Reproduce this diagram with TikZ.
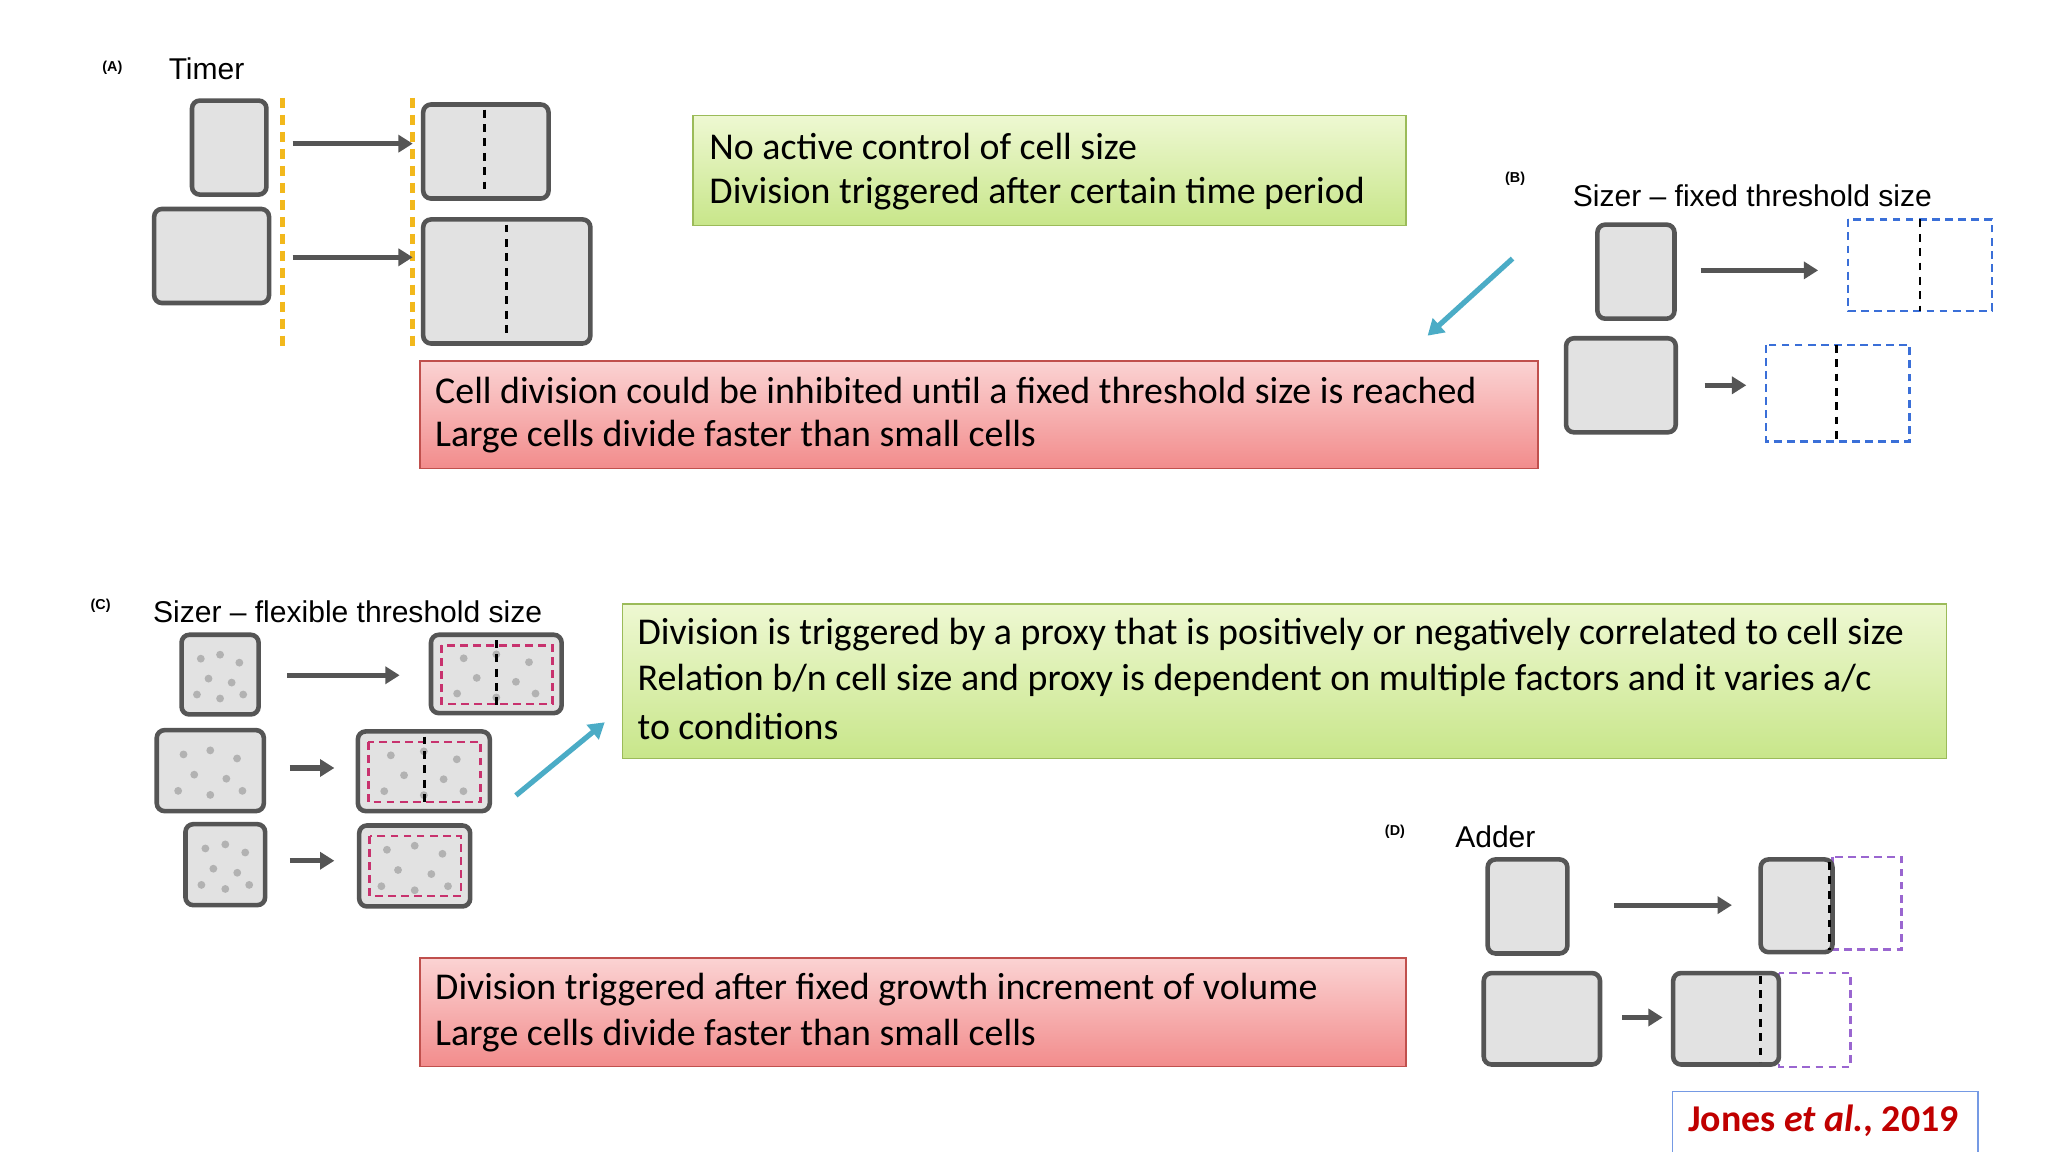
\documentclass[tikz,border=0pt]{standalone}
\usepackage{fontspec}
\setmainfont{Carlito}
\newfontfamily\lbl{Liberation Sans}
\usetikzlibrary{arrows.meta,calc}
\definecolor{cellfill}{HTML}{E2E2E2}
\definecolor{celldraw}{HTML}{555555}
\definecolor{gtop}{HTML}{EEF8D2}
\definecolor{gbot}{HTML}{C8E68A}
\definecolor{gbord}{HTML}{9BBB59}
\definecolor{rtop}{HTML}{FBD3D3}
\definecolor{rbot}{HTML}{F28C8C}
\definecolor{rbord}{HTML}{C0504D}
\definecolor{cyanarr}{HTML}{4BACC6}
\definecolor{ylw}{HTML}{F2B81C}
\definecolor{bluedash}{HTML}{3A6FD8}
\definecolor{pinkdash}{HTML}{C8326E}
\definecolor{purdash}{HTML}{9A66D0}
\definecolor{darkred}{HTML}{C00000}
\tikzset{x=1pt,y=-1pt,
 cell/.style={fill=cellfill,draw=celldraw,line width=3.5pt,rounded corners=6pt},
 arr/.style={draw=celldraw,line width=4pt,-{Triangle[length=11pt,width=13pt]}},
 mid/.style={black,line width=2.2pt,dash pattern=on 6pt off 5pt},
 dbox/.style={line width=2pt,dash pattern=on 6pt off 4pt},
 greenbox/.style={draw=gbord,line width=1pt,top color=gtop,bottom color=gbot},
 redbox/.style={draw=rbord,line width=1pt,top color=rtop,bottom color=rbot},
 boxtext/.style={anchor=west,font=\fontsize{29}{33}\selectfont,inner sep=0pt},
 plabel/.style={font=\lbl\bfseries\fontsize{11}{13}\selectfont,inner sep=0pt},
 title/.style={anchor=west,font=\lbl\fontsize{23}{26}\selectfont,inner sep=0pt},
 blarr/.style={cyanarr,line width=4pt,-{Triangle[length=12pt,width=14pt]}},
 dot/.style={fill=gray!60,draw=none}}
\newcommand{\celldots}[2]{\foreach \dx/\dy in {0.25/0.3,0.5/0.25,0.75/0.35,0.35/0.55,0.65/0.6,0.2/0.75,0.5/0.8,0.8/0.75}{\coordinate (px) at ($(#1)!\dx!(#2)$); \coordinate (py) at ($(#1)!\dy!(#2)$); \fill[dot] (px |- py) circle (3pt);}}
\begin{document}
\begin{tikzpicture}
\useasboundingbox[fill=white] (0,0) rectangle (1568,882);
% (A)
\node[plabel] (la) at (86,52) {(A)};
\node[title] (ta) at (129,53) {Timer};
\draw[ylw,line width=4pt,dash pattern=on 8pt off 5pt] (216,75) coordinate (y1) -- (216,265) coordinate (y2);
\draw[ylw,line width=4pt,dash pattern=on 8pt off 5pt] (316,75) coordinate (y3) -- (316,265) coordinate (y4);
\draw[cell] (147,77) rectangle (204,149); \coordinate (a1) at (224,110); \coordinate (a1e) at (316,110);
\draw[cell] (118,160) rectangle (206,232); \coordinate (a2) at (224,197); \coordinate (a2e) at (316,197);
\draw[arr] (a1) -- (a1e); \draw[arr] (a2) -- (a2e);
\draw[cell] (324,80) rectangle (420,152); \draw[mid] (371,84) -- (371,148);
\draw[cell] (324,168) rectangle (452,263); \draw[mid] (388,172) -- (388,259);
% green box 1
\node[greenbox,minimum width=546pt,minimum height=84pt,anchor=north west,inner sep=0pt] (g1) at (530,88) {};
\node[boxtext] (g1a) at (543,112) {No active control of cell size};
\node[boxtext] (g1b) at (543,148) {Division triggered after certain time period};
% red box 1
\node[redbox,minimum width=856pt,minimum height=82pt,anchor=north west,inner sep=0pt] (r1) at (321,276) {};
\node[boxtext] (r1a) at (333,299) {Cell division could be inhibited until a fixed threshold size is reached};
\node[boxtext] (r1b) at (333,334) {Large cells divide faster than small cells};
\coordinate (bs) at (1158,198); \coordinate (be) at (1093,257);
\draw[blarr] (bs) -- (be);
% (B)
\node[plabel] (lb) at (1160,137) {(B)};
\node[title] (tb) at (1204,150) {Sizer – fixed threshold size};
\draw[cell] (1223,172) rectangle (1282,244);
\draw[arr] (1302,207) -- (1392,207);
\draw[bluedash,dbox] (1415,168) rectangle (1525,238); \draw[mid] (1470,168) -- (1470,238);
\draw[cell] (1199,259) rectangle (1283,331);
\draw[arr] (1305,295) -- (1337,295);
\draw[bluedash,dbox] (1352,264) rectangle (1462,338); \draw[mid] (1406,264) -- (1406,338);
% (C)
\node[plabel] (lc) at (77,464) {(C)};
\node[title] (tc) at (117,468) {Sizer – flexible threshold size};
\draw[cell] (139,486) coordinate (c1a) rectangle (198,547) coordinate (c1b); \celldots{c1a}{c1b}
\draw[arr] (220,517) -- (306,517);
\draw[cell] (330,486) coordinate (d1a) rectangle (430,546) coordinate (d1b); \celldots{d1a}{d1b}
\draw[pinkdash,dbox] (338,494) rectangle (423,539); \draw[mid] (380,490) -- (380,542);
\draw[cell] (120,559) coordinate (c2a) rectangle (202,621) coordinate (c2b); \celldots{c2a}{c2b}
\draw[arr] (222,588) -- (256,588);
\draw[cell] (274,560) coordinate (d2a) rectangle (375,621) coordinate (d2b); \celldots{d2a}{d2b}
\draw[pinkdash,dbox] (282,568) rectangle (368,614); \draw[mid] (325,564) -- (325,617);
\draw[cell] (142,631) coordinate (c3a) rectangle (203,693) coordinate (c3b); \celldots{c3a}{c3b}
\draw[arr] (222,659) -- (256,659);
\draw[cell] (275,632) coordinate (d3a) rectangle (360,694) coordinate (d3b); \celldots{d3a}{d3b}
\draw[pinkdash,dbox] (283,640) rectangle (353,686);
\coordinate (cs) at (395,609); \coordinate (ce) at (463,553);
\draw[blarr] (cs) -- (ce);
% green box 2
\node[greenbox,minimum width=1014pt,minimum height=118pt,anchor=north west,inner sep=0pt] (g2) at (476,462) {};
\node[boxtext] (g2a) at (488,486) {Division is triggered by a proxy that is positively or negatively correlated to cell size};
\node[boxtext] (g2b) at (488,521) {Relation b/n cell size and proxy is dependent on multiple factors and it varies a/c};
\node[boxtext] (g2c) at (488,556) {to conditions};
% (D)
\node[plabel] (ld) at (1068,637) {(D)};
\node[title] (td) at (1114,641) {Adder};
\draw[cell] (1139,658) rectangle (1200,730);
\draw[arr] (1236,693) -- (1326,693);
\draw[purdash,dbox] (1403,656) rectangle (1456,727);
\draw[cell] (1348,658) rectangle (1403,729); \draw[mid] (1401,660) -- (1401,727);
\draw[cell] (1136,745) rectangle (1225,815);
\draw[arr] (1242,779) -- (1273,779);
\draw[purdash,dbox] (1362,745) rectangle (1417,817);
\draw[cell] (1281,745) rectangle (1362,815); \draw[mid] (1348,747) -- (1348,813);
% red box 2
\node[redbox,minimum width=755pt,minimum height=83pt,anchor=north west,inner sep=0pt] (r2) at (321,733) {};
\node[boxtext] (r2a) at (333,758) {Division triggered after fixed growth increment of volume};
\node[boxtext] (r2b) at (333,793) {Large cells divide faster than small cells};
% citation
\node[draw=bluedash!70,line width=1pt,fill=white,minimum width=234pt,minimum height=48pt,anchor=north west,inner sep=0pt] (cit) at (1280,835) {};
\node[text=darkred,font=\bfseries\fontsize{29}{33}\selectfont,inner sep=0pt] (citt) at (1396,858) {Jones \textit{et al.}, 2019};
\end{tikzpicture}
\end{document}
